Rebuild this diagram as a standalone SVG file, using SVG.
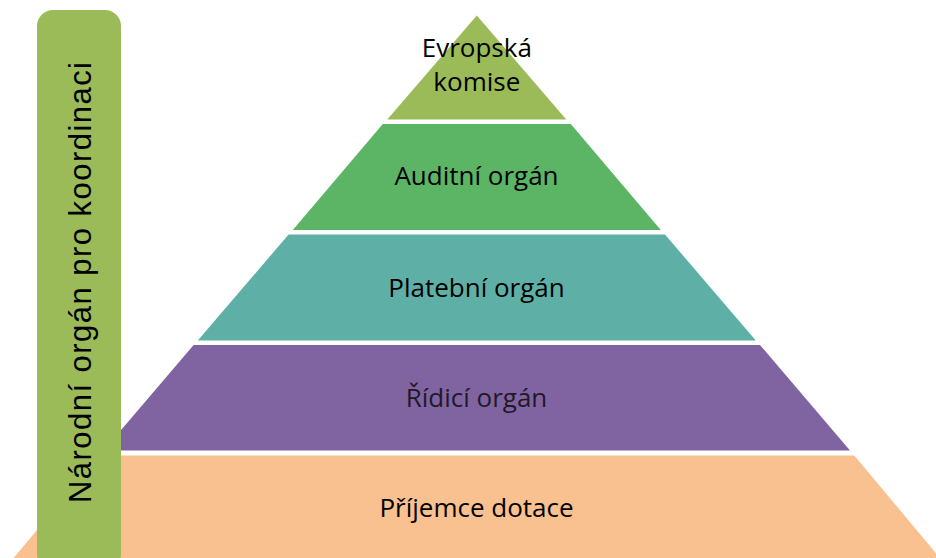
<svg xmlns="http://www.w3.org/2000/svg" width="936" height="558" viewBox="0 0 936 558">
  <style>
    .lbl { font-family: "Open Sans", "Noto Sans", sans-serif; font-size: 26px; fill: #000000; text-anchor: middle; }
    .side { font-family: "Liberation Sans", Arial, sans-serif; font-size: 31px; fill: #000000; }
  </style>
  <rect x="0" y="0" width="936" height="558" fill="#ffffff"/>
  <g id="layer-prijemce">
    <polygon points="99.3,455.5 854.3,455.5 940,558 13.6,558" fill="#F9C090"/>
    <text class="lbl" x="476.5" y="516.7">Příjemce dotace</text>
  </g>
  <g id="layer-ridici">
    <polygon points="193.6,345 760,345 850,450.5 103.6,450.5" fill="#8064A2"/>
    <text class="lbl" x="476.5" y="406.7" style="fill:#1f1a26">Řídicí orgán</text>
  </g>
  <g id="layer-platebni">
    <polygon points="288.6,234.5 665,234.5 755.8,340.5 197.8,340.5" fill="#5EB0A7"/>
    <text class="lbl" x="476.5" y="296.7">Platební orgán</text>
  </g>
  <g id="layer-auditni">
    <polygon points="382.8,124 570.8,124 660.8,230 292.8,230" fill="#5CB565"/>
    <text class="lbl" x="476.5" y="185">Auditní orgán</text>
  </g>
  <g id="layer-komise">
    <polygon points="476.8,15.5 566.3,119.5 387.3,119.5" fill="#9BBB59"/>
    <text class="lbl" x="476.8" y="57.3">Evropská</text>
    <text class="lbl" x="476.8" y="90.7">komise</text>
  </g>
  <g id="narodni-organ">
    <rect x="37" y="10" width="84" height="560" rx="16" ry="16" fill="#9BBB59"/>
    <text class="side" transform="translate(91,503) rotate(-90)" textLength="441" lengthAdjust="spacing">Národní orgán pro koordinaci</text>
  </g>
</svg>
